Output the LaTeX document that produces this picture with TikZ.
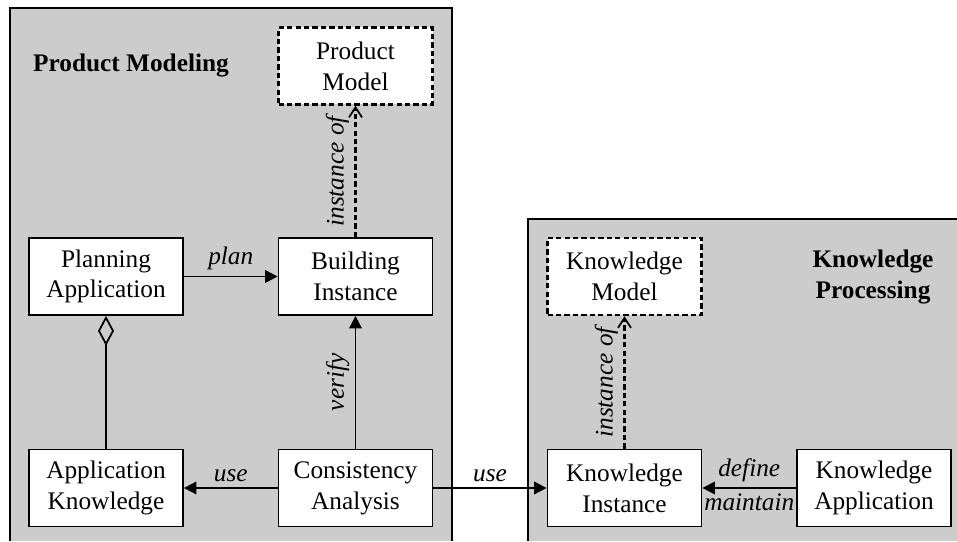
\documentclass[tikz,border=0pt]{standalone}
\usepackage{fontspec}
\setmainfont{Liberation Serif}
\usetikzlibrary{arrows.meta}

\newcommand{\figfont}{\fontsize{14.4}{17.5}\selectfont}

\tikzset{
  block/.style={draw, fill=white, line width=1pt, minimum width=3.08cm, minimum height=1.54cm, align=center, inner sep=2pt, font=\figfont},
  model/.style={block, line width=1.4pt, dash pattern=on 3pt off 1.8pt},
  panel/.style={fill=black!20},
  title/.style={font=\figfont\bfseries, align=center},
  rel/.style={line width=1pt, -{Triangle[length=0.25cm, width=0.25cm]}},
  inst/.style={line width=1.4pt, dash pattern=on 3pt off 1.8pt, -{Straight Barb[length=0.2cm, width=0.26cm, line width=1pt]}},
  part/.style={line width=1pt, {Diamond[open, length=0.6cm, width=0.32cm]}-},
  lbl/.style={font=\figfont\itshape, inner sep=3pt}
}

\begin{document}
\begin{tikzpicture}
\useasboundingbox (0,0) rectangle (19.14,10.82);

\fill [panel] (0.2,0) rectangle (9.04,10.66);
\draw [line width=0.7pt] (0.2,0)--(0.2,10.66)--(9.04,10.66)--(9.04,0);
\fill [panel] (10.56,0) rectangle (19.14,6.44);
\draw [line width=0.7pt] (10.56,0)--(10.56,6.44)--(19.14,6.44);

\node [title] (pmtitle) at (2.62,9.5) {Product Modeling};
\node [title] (kptitle) at (17.46,5.28) {Knowledge\\Processing};

\node [model] (pmodel) at (7.11,9.5) {Product\\Model};
\node [block] (papp) at (2.12,5.29) {Planning\\Application};
\node [block] (binst) at (7.11,5.29) {Building\\Instance};
\node [block] (aknow) at (2.12,1.06) {Application\\Knowledge};
\node [block] (cana) at (7.11,1.06) {Consistency\\Analysis};
\node [model] (kmodel) at (12.49,5.29) {Knowledge\\Model};
\node [block] (kinst) at (12.49,1.06) {Knowledge\\Instance};
\node [block] (kapp) at (17.48,1.06) {Knowledge\\Application};

\draw [rel] (papp) -- node [lbl, above] {plan} (binst);
\draw [inst] (binst) -- node [lbl, above, sloped] {instance of} (pmodel);
\draw [rel] (cana) -- node [lbl, above, sloped] {verify} (binst);
\draw [part] (papp) -- (aknow);
\draw [rel] (cana) -- node [lbl, above] {use} (aknow);
\draw [rel] (cana) -- node [lbl, above] {use} (kinst);
\draw [inst] (kinst) -- node [lbl, above, sloped] {instance of} (kmodel);
\draw [rel] (kapp) -- node [lbl, above] {define} node [lbl, below] {maintain} (kinst);
\end{tikzpicture}
\end{document}
